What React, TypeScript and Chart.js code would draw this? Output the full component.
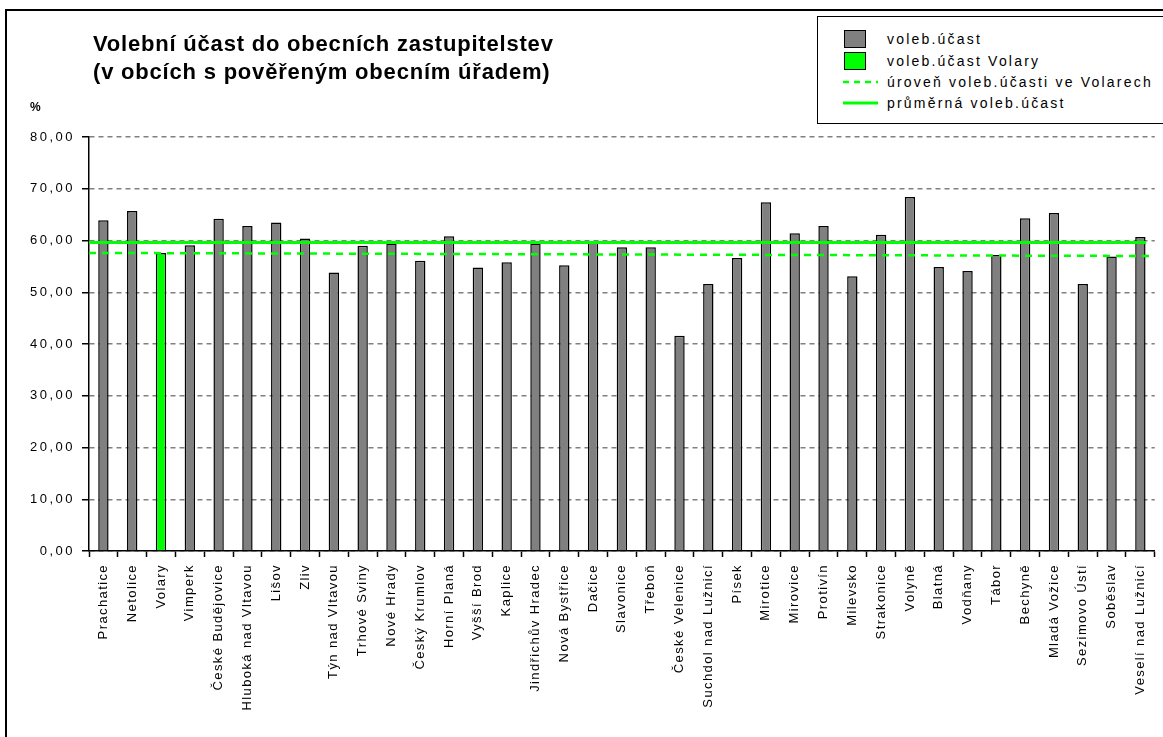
import React, { useEffect, useRef } from 'react';
import { Chart, registerables } from 'chart.js';

Chart.register(...registerables);

const categories = [
  'Prachatice', 'Netolice', 'Volary', 'Vimperk', 'České Budějovice', 'Hluboká nad Vltavou',
  'Lišov', 'Zliv', 'Týn nad Vltavou', 'Trhové Sviny', 'Nové Hrady', 'Český Krumlov',
  'Horní Planá', 'Vyšší Brod', 'Kaplice', 'Jindřichův Hradec', 'Nová Bystřice', 'Dačice',
  'Slavonice', 'Třeboň', 'České Velenice', 'Suchdol nad Lužnicí', 'Písek', 'Mirotice',
  'Mirovice', 'Protivín', 'Milevsko', 'Strakonice', 'Volyně', 'Blatná', 'Vodňany', 'Tábor',
  'Bechyně', 'Mladá Vožice', 'Sezimovo Ústí', 'Soběslav', 'Veselí nad Lužnicí',
];

const turnout = [
  63.9, 65.7, 57.6, 59.1, 64.2, 62.8,
  63.5, 60.4, 53.8, 59.0, 59.4, 56.1,
  60.8, 54.8, 55.8, 59.4, 55.2, 59.6,
  58.7, 58.7, 41.6, 51.6, 56.6, 67.4,
  61.4, 62.8, 53.1, 61.1, 68.4, 54.9, 54.1, 57.2,
  64.3, 65.3, 51.6, 56.9, 60.7,
];

const highlighted = 'Volary';

// level of turnout in Volary (dashed line) – endpoints as drawn in the original
const volaryLevelLine = [
  { x: 0, y: 57.6 },
  { x: 37, y: 57.0 },
];

// average turnout (solid line)
const averageLine = [
  { x: 0, y: 59.6 },
  { x: 36.7, y: 59.6 },
];

const yTickValues = [0, 10, 20, 30, 40, 50, 60, 70, 80];

const legendItems = [
  { label: 'voleb.účast', kind: 'box', color: '#808080' },
  { label: 'voleb.účast Volary', kind: 'box', color: '#00FF00' },
  { label: 'úroveň voleb.účasti ve Volarech', kind: 'dash', color: '#00FF00' },
  { label: 'průměrná voleb.účast', kind: 'line', color: '#00FF00' },
];

const FONT = '"Liberation Sans", Arial, sans-serif';

const spacingPlugin = {
  id: 'labelSpacing',
  afterLayout(chart: any) {
    const cfg: [string, string][] = [['x', '1.4px'], ['y', '2.5px']];
    for (const [id, ls] of cfg) {
      const s: any = chart.scales[id];
      if (!s || s.__spaced) continue;
      const orig = s.drawLabels;
      s.drawLabels = function (area: any) {
        const ctx = this.ctx;
        ctx.save();
        (ctx as any).letterSpacing = ls;
        orig.call(this, area);
        ctx.restore();
      };
      s.__spaced = true;
    }
  },
};

export default function App() {
  const canvasRef = useRef<HTMLCanvasElement | null>(null);

  useEffect(() => {
    const canvas = canvasRef.current;
    if (!canvas) return;
    const others = categories.map((c, i) => (c === highlighted ? null : turnout[i]));
    const volary = categories.map((c, i) => (c === highlighted ? turnout[i] : null));

    const chart = new Chart(canvas, {
      type: 'bar',
      data: {
        labels: categories,
        datasets: [
          {
            type: 'bar',
            label: 'voleb.účast',
            data: others,
            backgroundColor: '#808080',
            borderColor: '#000000',
            borderWidth: 1.5,
            barPercentage: 0.36,
            categoryPercentage: 1,
            grouped: false,
            order: 2,
          } as any,
          {
            type: 'bar',
            label: 'voleb.účast Volary',
            data: volary,
            backgroundColor: '#00FF00',
            borderColor: '#000000',
            borderWidth: 1.5,
            barPercentage: 0.36,
            categoryPercentage: 1,
            grouped: false,
            order: 2,
          } as any,
          {
            type: 'line',
            label: 'úroveň voleb.účasti ve Volarech',
            data: volaryLevelLine,
            xAxisID: 'x2',
            borderColor: '#00FF00',
            borderWidth: 2.5,
            borderDash: [7, 6],
            pointRadius: 0,
            fill: false,
            order: 0,
          } as any,
          {
            type: 'line',
            label: 'průměrná voleb.účast',
            data: averageLine,
            xAxisID: 'x2',
            borderColor: '#00FF00',
            borderWidth: 3,
            pointRadius: 0,
            fill: false,
            order: 0,
          } as any,
        ],
      },
      options: {
        responsive: false,
        animation: false,
        devicePixelRatio: 1,
        layout: { padding: { left: 0, top: 137, right: 2, bottom: 0 } },
        plugins: {
          legend: { display: false },
          title: { display: false },
          tooltip: { enabled: false },
        },
        scales: {
          x: {
            type: 'category',
            offset: true,
            afterFit: (scale: any) => {
              scale.height = 186;
            },
            grid: {
              display: true,
              offset: true,
              drawOnChartArea: false,
              drawTicks: true,
              tickLength: 6,
              tickColor: '#000000',
              tickWidth: 1.5,
            },
            border: { display: true, color: '#000000', width: 1.5 },
            ticks: {
              autoSkip: false,
              minRotation: 90,
              maxRotation: 90,
              padding: 7,
              color: '#000000',
              font: { family: FONT, size: 13 },
            },
          },
          x2: {
            type: 'linear',
            display: false,
            offset: false,
            grid: { offset: false },
            min: 0,
            max: categories.length,
          },
          y: {
            type: 'linear',
            min: yTickValues[0],
            max: yTickValues[yTickValues.length - 1],
            afterFit: (scale: any) => {
              scale.width = 89;
            },
            afterBuildTicks: (scale: any) => {
              scale.ticks = yTickValues.map((v) => ({ value: v }));
            },
            grid: {
              color: '#808080',
              lineWidth: 1.5,
              drawTicks: true,
              tickLength: 7,
              tickColor: '#000000',
              tickWidth: 1.5,
              tickBorderDash: [],
            },
            border: { display: true, color: '#000000', width: 1.5, dash: [5, 4] },
            ticks: {
              padding: 7,
              color: '#000000',
              font: { family: FONT, size: 13 },
              callback: (v: any) => Number(v).toFixed(2).replace('.', ','),
            },
          },
        },
      },
      plugins: [spacingPlugin],
    } as any);

    return () => {
      chart.destroy();
    };
  }, []);

  const rowCenters = [39, 61, 82, 103];

  return (
    <div
      style={{
        position: 'fixed',
        left: 0,
        top: 0,
        width: 1163,
        height: 737,
        overflow: 'hidden',
        background: '#ffffff',
        fontFamily: FONT,
      }}
    >
      <div
        style={{
          position: 'absolute',
          left: 5,
          top: 9,
          width: 1300,
          height: 900,
          borderLeft: '2px solid #000',
          borderTop: '2px solid #000',
        }}
      />
      <canvas
        ref={canvasRef}
        width={1163}
        height={737}
        style={{ position: 'absolute', left: 0, top: 0, width: 1163, height: 737 }}
      />
      <div
        style={{
          position: 'absolute',
          left: 93,
          top: 30,
          fontWeight: 'bold',
          fontSize: 22,
          lineHeight: '28px',
          letterSpacing: '0.8px',
          color: '#000',
          whiteSpace: 'nowrap',
        }}
      >
        <div>Volební účast do obecních zastupitelstev</div>
        <div>(v obcích s pověřeným obecním úřadem)</div>
      </div>
      <div
        style={{
          position: 'absolute',
          left: 30,
          top: 100,
          fontWeight: 'bold',
          fontSize: 12,
          lineHeight: '14px',
          color: '#000',
        }}
      >
        %
      </div>
      <div
        style={{
          position: 'absolute',
          left: 817,
          top: 16,
          width: 400,
          height: 106,
          border: '1px solid #000',
          background: '#fff',
        }}
      />
      {legendItems.map((it, i) => {
        const cy = rowCenters[i];
        return (
          <React.Fragment key={it.label}>
            {it.kind === 'box' ? (
              <div
                style={{
                  position: 'absolute',
                  left: 844,
                  top: cy - 9,
                  width: 20,
                  height: 16,
                  background: it.color,
                  border: '1.5px solid #000',
                }}
              />
            ) : (
              <svg
                style={{ position: 'absolute', left: 843, top: cy - 4 }}
                width={36}
                height={8}
              >
                <line
                  x1={0}
                  y1={4}
                  x2={35}
                  y2={4}
                  stroke={it.color}
                  strokeWidth={it.kind === 'dash' ? 2.5 : 3}
                  strokeDasharray={it.kind === 'dash' ? '6 5' : undefined}
                />
              </svg>
            )}
            <div
              style={{
                position: 'absolute',
                left: 887,
                top: cy - 9,
                fontSize: 14,
                lineHeight: '18px',
                letterSpacing: '2.2px',
                color: '#000',
                whiteSpace: 'nowrap',
              }}
            >
              {it.label}
            </div>
          </React.Fragment>
        );
      })}
    </div>
  );
}
